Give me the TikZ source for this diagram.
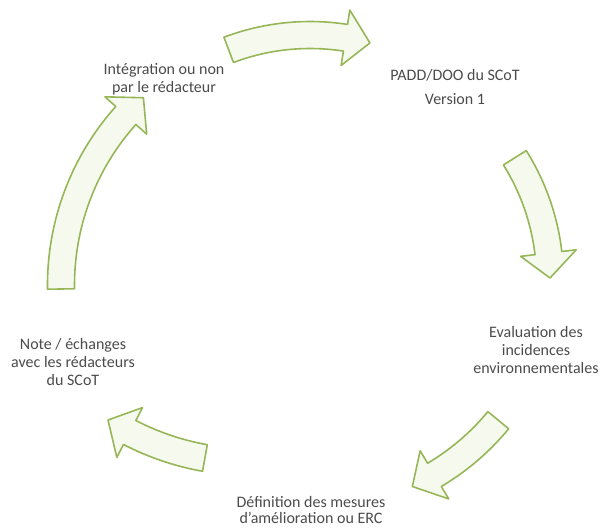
\documentclass[tikz,border=0pt]{standalone}
\usepackage{fontspec}
\setmainfont{Carlito}
\usepackage{xcolor}
\usetikzlibrary{calc}
\definecolor{arrowfill}{RGB}{246,250,238}
\definecolor{arrowline}{RGB}{150,182,88}
\definecolor{textgray}{RGB}{75,75,75}
\tikzset{%
    % Curved block arrows of the cycle
    cyclearrow/.style = {fill=arrowfill, draw=arrowline, line width=1.6pt,
    line join=round},
    % Text of each stage
    stage/.style = {align=center, text=textgray, inner sep=0pt,
    font=\fontsize{16}{18}\selectfont},
}
% #1 centre, #2 radius, #3 tail angle, #4 tip angle
\newcommand{\cyclearc}[4]{%
    \pgfmathsetmacro{\shoulder}{#4-25/#2*180/pi}%
    \pgfmathsetmacro{\rout}{#2+13.5}%
    \pgfmathsetmacro{\rin}{#2-13.5}%
    \pgfmathsetmacro{\hout}{#2+28}%
    \pgfmathsetmacro{\hin}{#2-28}%
    \filldraw[cyclearrow, shift={(#1)}] (#3:\rout)
    arc[start angle=#3, end angle=\shoulder, radius=\rout]
    -- (\shoulder:\hout) -- (#4:#2) -- (\shoulder:\hin) -- (\shoulder:\rin)
    arc[start angle=\shoulder, end angle=#3, radius=\rin] -- cycle;
}

\begin{document}
\begin{tikzpicture}[x=1pt, y=-1pt]
	\useasboundingbox (0,0) rectangle (604,527);
	\cyclearc{310,265}{230}{-110.7}{-74.9}
	\cyclearc{320,280}{230}{-32.1}{-0.5}
	\cyclearc{310,265}{244}{39.5}{65.2}
	\cyclearc{251.5,196.5}{265.6}{100.1}{122.7}
	\cyclearc{315,285}{254}{179.1}{227.5}
	
	\node[stage] (padd) at (455,87) {PADD/DOO du SCoT\\[6pt]Version 1};
	\node[stage] (eval) at (536,350) {Evaluation des\\incidences\\environnementales};
	\node[stage] (erc) at (311,510) {Définition des mesures\\[-2pt]d'amélioration ou ERC};
	\node[stage] (note) at (73,362) {Note / échanges\\avec les rédacteurs\\du SCoT};
	\node[stage] (integ) at (164,79) {Intégration ou non\\par le rédacteur};
\end{tikzpicture}
\end{document}
